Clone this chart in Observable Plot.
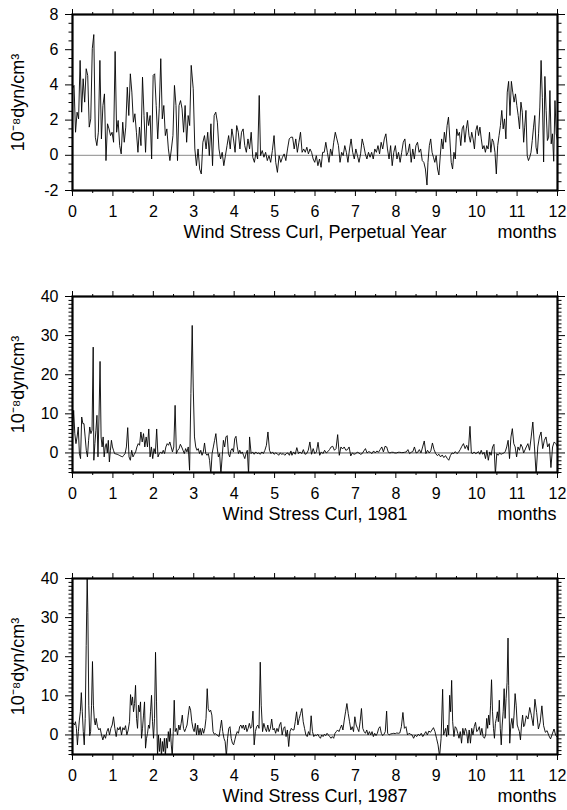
<!DOCTYPE html>
<html><head><meta charset="utf-8">
<script src="https://cdn.jsdelivr.net/npm/d3@7"></script>
<script src="https://cdn.jsdelivr.net/npm/@observablehq/plot@0.6"></script>
<style>
html,body{margin:0;padding:0;background:#fff;}
#chart{width:567px;}
#chart svg{display:block;}
</style></head><body><div id="chart"></div>
<script>
// ---------- tick labels / texts ----------
const xMajor = [0,1,2,3,4,5,6,7,8,9,10,11,12];
const xMinor = [0.5,1.5,2.5,3.5,4.5,5.5,6.5,7.5,8.5,9.5,10.5,11.5];
const p1YMajor = [-2,0,2,4,6,8];
const p1YMinor = [-1.5,-1,-0.5,0.5,1,1.5,2.5,3,3.5,4.5,5,5.5,6.5,7,7.5];
const p23YMajor = [0,10,20,30,40];
const p23YMinor = [-5,-4,-3,-2,-1,1,2,3,4,5,6,7,8,9,11,12,13,14,15,16,17,18,19,21,22,23,24,25,26,27,28,29,31,32,33,34,35,36,37,38,39];
const titles = ["Wind Stress Curl, Perpetual Year", "Wind Stress Curl, 1981", "Wind Stress Curl, 1987"];
const unitsLabel = "months";
const yLabel = "10\u207B\u2078dyn/cm\u00B3";

// ---------- Perpetual Year: read values, in stretches (start month, end month) ----------
const p1Spans = [[0,2.937],[2.987,4.62],[4.653,5.404],[5.446,8.771],[8.795,11.163],[11.188,12]];
const p1a = [3.78,3.97,1.31,2.45,2.07,5.39,2.45,4.35,3.02,4.92,4.54,1.6,2.07,6.06,6.86,1.03,0.55,1.31,5.39,0.93,2.83,3.49,-0.3,1.79,1.5,1.12,1.31,0.74,5.9,1.31,1.98,0.55,0.08,1.88,0.74,1.6,3.87,2.26,4.63,3.59,1.88,2.36,1.31,0.17,1.6,0.55,4.44,2.26,0.17,2.45,1.69,2.26,-0.21,4.54,4.63,2.83,0.93,2.64,5.49,2.07,2.83,1.12,1.5,0.36,-0.3,0.36,1.12,3.97,2.83,-0.3,2.83,3.11,2.64,1.31,2.83,0.74,2.26,1.69,5.11];
const p1b = [3.78,0.36,-0.59,0.36,-0.78,-1.06,0.74,1.12,0.36,1.31,-0.02,1.79,-0.59,2.26,2.45,1.88,0.36,-0.21,0.17,-0.59,-0.02,0.55,1.12,0.36,1.5,0.93,0.17,1.69,1.31,0.36,1.31,1.5,0.55,0.17,0.93,0.36,1.31,-0.11,-0.4,0.17,-0.21,3.4];
const p1c = [-0.02,0.27,-0.11,0.17,-0.3,-0.02,-0.4,0.27,1.12,-0.4,-0.97,-0.02,-0.4,-0.11,0.08,-0.3,0.36,0.93,1.03];
const p1d = [1.03,0.36,0.93,0.17,0.74,1.31,0.17,0.36,0.17,0.46,0.08,0.36,0.17,-0.21,-0.4,-0.02,-0.59,-0.21,-0.68,0.17,0.17,0.74,0.17,-0.4,0.36,-0.02,0.74,1.31,0.93,0.55,-0.4,0.17,-0.02,0.55,0.17,-0.4,0.36,0.93,0.17,-0.21,0.36,-0.02,-0.4,0.08,0.93,0.55,0.08,-0.21,0.17,-0.11,0.17,-0.21,0.36,0.17,0.55,0.08,0.74,0.36,0.93,1.22,0.36,-0.21,0.55,-0.59,0.17,0.55,-0.21,0.17,-0.4,0.17,0.74,0.93,-0.02,0.17,0.65,-0.4,0.36,-0.21,0.55,0.74,0.17,0.36,-0.3,-0.4,-0.78,-1.69];
const p1e = [-0.4,0.55,0.93,0.17,-0.11,-0.4,-0.02,-0.78,-1.12,-0.02,0.93,0.36,1.31,0.74,1.69,2.17,0.93,-0.4,-0.78,0.17,-0.21,1.5,1.12,1.31,0.55,1.5,1.69,0.74,1.5,1.98,1.12,0.74,1.31,0.93,0.36,1.41,1.69,1.12,1.6,0.93,0.36,0.55,0.17,0.55,0.36,1.31,0.17,0.93,0.74,0.17,-1.06,0.55,1.12,1.69,2.55,1.5,2.07,0.93,3.59,4.2,2.26,4.2,3.59,3.02,3.49,2.83,2.26,1.5,3.02,2.45,0.74];
const p1f = [1.6,2.55,-0.02,-0.3,-0.11,0.17,0.84,1.6,2.26,0.46,0.08,1.22,2.74,5.39,3.3,-0.38,4.48,2.55,0.84,1.03,3.68,0.65,1.22,-0.34,3.11,1.22,0.84];

// ---------- 1981 ----------
const p2Spans = [[0,0.512],[0.528,1.04],[1.073,2.962],[2.987,4.356],[4.381,5.404],[5.429,9.835],[9.868,11.163],[11.227,12]];
const p2a = [4.09,10.89,4.94,2.38,4.09,6.64,-0.17,-1.45,9.19,7.49,7.49,4.09,0.68,-1.02,3.23,6.64,4.94,5.79,27.06];
const p2b = [-1.87,2.38,5.79,9.62,-1.02,9.19,23.4,4.09,1.53,4.09,-1.02,1.53,2.38,0,3.23,-2.3,0.68,3.23,1.53,0.68,-0.17];
const p2c = [-0.25,-0.34,-0.5,-0.68,-0.85,-1.02,-0.6,-0.17,1.53,6.47,-1.02,-1.87,0.68,-1.02,-0.34,0.26,1.53,2.38,1.96,5.36,2.81,4.94,1.53,4.09,1.53,6.13,-1.02,1.53,-1.45,1.11,-0.17,6.13,-1.02,-0.17,0.26,-0.17,0.68,-0.17,1.53,2.38,1.96,2.81,1.53,0.26,1.53,12.17,-0.17,0.68,1.11,2.21,1.53,0.68,-0.17,1.11,0.26,1.53,-4.43,15.15,32.6];
const p2d = [16.85,4.09,1.53,0.68,1.11,-0.17,0.68,-0.6,0.26,2.55,-0.17,-0.6,-0.17,-1.87,-5.5,-0.17,1.53,3.23,4.94,1.53,-1.02,-0.17,-5.5,-1.02,3.23,1.53,4.09,4.43,-0.17,-1.02,0.68,1.11,0.26,3.66,4.26,1.53,-0.17,0.68,-0.17,0.26,-0.6,-1.45,-0.17,0.68,-5.5];
const p2e = [4.09,-0.17,0.26,-0.34,0.26,-0.17,0,-0.34,0.26,-0.17,0.68,1.96,5.36,0.68,-0.17,0.26,-0.34,0,-0.17,-0.6,0,-0.34,-0.17,-0.6,-0.17,0,-0.6,0.51];
const p2f = [-0.6,0.26,-0.34,1.36,-0.17,0.26,-0.17,0.85,-0.34,-0.17,0.68,2.81,-0.34,1.11,-0.17,0.26,2.72,-0.6,0.26,-0.17,0.68,0,0.34,0.85,1.53,1.7,0.68,1.11,4.68,-0.6,1.53,1.02,1.53,0.68,0.85,1.53,-0.77,0,-0.34,-0.17,0.17,0,-0.34,-0.17,0.51,1.11,0,0.34,0.17,-0.17,0.51,0,0.51,0.17,0.85,1.53,0.26,1.7,1.53,0.17,0,0.17,0.17,0,0,0.17,0.17,0.09,0.09,0.17,0.26,0.85,-0.17,0.17,0.34,1.53,0,0.17,0.85,0,1.53,3.06,-0.17,0.68,0,0.51,2.55,0.85,-0.17,-0.68,-0.34,-1.02,-0.51,-1.19,-0.68,-1.36,-1.87,-0.68,0,-0.17,0.34,-0.17,0.17,0.85,1.7,2.38,1.11,1.96,0.68,6.81];
const p2g = [0,-0.17,0.26,-0.17,0,0.34,-0.34,0.68,-0.34,0.17,-1.45,0.68,-1.87,0.26,-0.6,1.53,2.21,-5.5,-0.17,-0.6,0,-0.34,-0.17,0,0.34,1.53,3.23,-1.45,4.09,6.21,2.38,1.53,-1.02,1.53,0.68,2.21,1.53,0];
const p2h = [1.53,2.38,0.68,4.09,7.91,1.53,-5.5,1.53,4.09,5.36,1.11,3.23,4.09,1.53,2.38,-3.74,1.53,2.81,2.38,1.53];

// ---------- 1987 ----------
const p3Spans = [[0.025,0.363],[0.38,0.586],[0.619,1.411],[1.436,2.054],[2.079,2.517],[2.541,3.333],[3.358,4.645],[4.67,5.446],[5.479,7.772],[7.797,9.158],[9.183,9.381],[9.406,10.223],[10.248,10.776],[10.792,11.163],[11.184,12]];
const p3a = [2.96,2.54,3.38,1.69,-2.54,0.85,3.8,5.92,10.82,5.92,0.85,-2.54,4.23,22.82,40.5];
const p3b = [31.28,7.61,-0.17,0.85,7.61,18.77,7.61,3.8,2.54,4.23];
const p3c = [2.11,1.27,1.69,0,-1.27,0,-0.85,0.85,1.69,0,1.69,2.54,4.65,1.69,-0.42,1.86,1.27,2.11,0,1.86,1.27,2.37,0,1.27,3.38];
const p3d = [10.31,7.61,9.72,5.92,8.03,12.68,4.23,1.69,7.61,5.92,8.45,-0.85,1.69,5.07,8.45,-3.38,-0.85,0.42,2.54,1.69,5.92,10.14,3.38,-0.85,4.23,21.13];
const p3e = [8.45,-5.5,0,-4.23,-0.85,-5.5,-1.69,-4.23,-0.85,-5.5,-0.85,-3.38,0.85,-1.69,1.69,-2.54,-5.5,0.85,8.88];
const p3f = [0.85,1.69,0,2.54,1.27,2.96,5.07,1.69,0.85,1.69,2.54,5.07,7.35,6.34,3.38,1.69,0.85,2.96,0,2.54,0,1.69,0,1.69,0.42,1.69,4.23,11.83];
const p3g = [6.76,5.92,6.34,5.07,0.85,0.17,0.34,0,-0.17,-0.42,1.69,3.8,0.85,-0.85,-1.69,-5.5,-0.85,1.69,2.11,-0.85,-2.11,-2.54,-1.27,0,0.85,0.42,2.11,2.54,1.69,2.54,1.27,2.54,0.85,1.69,2.96,1.69,2.11,6.09,-2.54,0.85,2.11,2.54,1.69,18.6];
const p3h = [7.61,0.85,2.96,1.69,0.85,2.54,0.85,1.69,4.06,1.27,1.69,0.42,1.69,0.85,2.54,3.21,0,1.69,2.11,-0.42,1.27,-2.96,0.85,1.69,1.27];
const p3i = [1.27,3.38,5.92,2.54,4.23,5.49,6.76,3.38,1.69,0,-0.42,0.85,0,4.9,0.85,-0.42,0,-0.17,0.17,-0.42,-0.85,0,-0.42,0.17,-0.17,0.42,0,-0.42,-0.85,-0.42,-0.85,0.42,0.85,1.27,0.85,1.69,2.54,1.27,3.8,5.92,8.03,5.49,3.38,1.27,2.11,0.85,4.65,2.54,1.69,0.85,3.38,6.76,1.69,0.85,0.42,1.27,0,0.85,0,0.85,-0.42,0.42,-0.17,0.42,1.69,2.11,0.42,-0.17,0.17,0.85,6.09];
const p3j = [0.42,0,0.25,0.34,0.42,0.34,0.51,0.42,0.51,2.11,5.75,1.69,2.11,0,0.42,0.17,0,-0.85,0,-0.42,0.17,-0.17,0.42,-0.42,0.17,0.85,0,1.01,0.68,1.27,1.86,0.85,-0.85,-2.54,-5.5,-0.85,11.67];
const p3k = [0,0.85,1.69,-0.42,2.54,0,10.14,5.92,13.95];
const p3l = [3.38,-0.42,2.11,1.69,0.42,-0.85,0.85,-2.11,1.69,0,1.69,0.85,-2.11,1.27,-2.11,1.69,0,2.11,3.21,0.85,1.27,2.11,0,1.69,-0.42,-0.85,0];
const p3m = [4.23,1.69,5.07,2.54,7.61,14.12,5.92,1.69,-0.85,2.96,4.23,5.92,3.38,8.88,1.69,-2.54,2.54,5.92,11.83,4.23,9.3,13.36,24.77];
const p3n = [12.68,-2.11,2.54,4.23,1.69,5.07,10.57,7.61,2.54,1.69,0.85,-1.27,2.54,5.07,2.11];
const p3o = [2.37,4.9,4.06,7.02,4.9,2.37,9.13,5.75,1.52,3.21,7.44,2.37,0.68,1.1,-0.17,-1.01,0.25,1.52,-0.17,-0.59];

// place each read stretch of values across its read month span
function rowsFrom(spans, stretches) {
  const rows = [];
  stretches.forEach((vals, k) => {
    const [a, b] = spans[k];
    const n = vals.length;
    vals.forEach((v, i) => rows.push({month: n > 1 ? a + (b - a) * i / (n - 1) : a, value: v}));
  });
  return rows;
}

const FONT = "'Liberation Sans', Arial, Helvetica, sans-serif";

function panel({rows, yDomain, yMajor, yMinor, title, height, marginBottom, zeroColor}) {
  const blank = () => "";
  return Plot.plot({
    width: 567, height, marginLeft: 72, marginRight: 10, marginTop: 14, marginBottom,
    style: {fontFamily: FONT, fontSize: "16px", background: "#fff", color: "#000", overflow: "visible"},
    x: {domain: [0, 12]},
    y: {domain: yDomain},
    marks: [
      Plot.ruleY([0], {stroke: zeroColor, strokeWidth: 1}),
      Plot.line(rows, {x: "month", y: "value", stroke: "#000", strokeWidth: 0.9, clip: true}),
      Plot.axisX({anchor: "bottom", ticks: xMajor, tickSize: 6, tickPadding: 9, tickFormat: d => String(d), label: null}),
      Plot.axisX({anchor: "bottom", ticks: xMinor, tickSize: 3, tickFormat: blank, label: null}),
      Plot.axisX({anchor: "top", ticks: xMajor, tickSize: 6, tickFormat: blank, label: null}),
      Plot.axisX({anchor: "top", ticks: xMinor, tickSize: 3, tickFormat: blank, label: null}),
      Plot.axisY({anchor: "left", ticks: yMajor, tickSize: 7, tickPadding: 7, tickFormat: d => String(d), label: null}),
      Plot.axisY({anchor: "left", ticks: yMinor, tickSize: 3.5, tickFormat: blank, label: null}),
      Plot.axisY({anchor: "right", ticks: yMajor, tickSize: 7, tickFormat: blank, label: null}),
      Plot.axisY({anchor: "right", ticks: yMinor, tickSize: 3.5, tickFormat: blank, label: null}),
      Plot.frame({stroke: "#000", strokeWidth: 2.2}),
      Plot.text([title], {text: d => d, frameAnchor: "bottom", textAnchor: "middle", dy: 47.3, fontSize: 18}),
      Plot.text([unitsLabel], {text: d => d, frameAnchor: "bottom-right", textAnchor: "end", dx: -1, dy: 47.3, fontSize: 18}),
      Plot.text([yLabel], {text: d => d, frameAnchor: "left", textAnchor: "middle", lineAnchor: "middle", dx: -54, rotate: -90, fontSize: 18})
    ]
  });
}

const chart = document.getElementById("chart");
chart.append(panel({
  rows: rowsFrom(p1Spans, [p1a, p1b, p1c, p1d, p1e, p1f]),
  yDomain: [-2, 8], yMajor: p1YMajor, yMinor: p1YMinor, title: titles[0],
  height: 282, marginBottom: 92, zeroColor: "#8a8a8a"
}));
chart.append(panel({
  rows: rowsFrom(p2Spans, [p2a, p2b, p2c, p2d, p2e, p2f, p2g, p2h]),
  yDomain: [-5, 40], yMajor: p23YMajor, yMinor: p23YMinor, title: titles[1],
  height: 282, marginBottom: 92, zeroColor: "#555"
}));
chart.append(panel({
  rows: rowsFrom(p3Spans, [p3a, p3b, p3c, p3d, p3e, p3f, p3g, p3h, p3i, p3j, p3k, p3l, p3m, p3n, p3o]),
  yDomain: [-5, 40], yMajor: p23YMajor, yMinor: p23YMinor, title: titles[2],
  height: 246, marginBottom: 56, zeroColor: "#555"
}));
</script>
</body></html>
